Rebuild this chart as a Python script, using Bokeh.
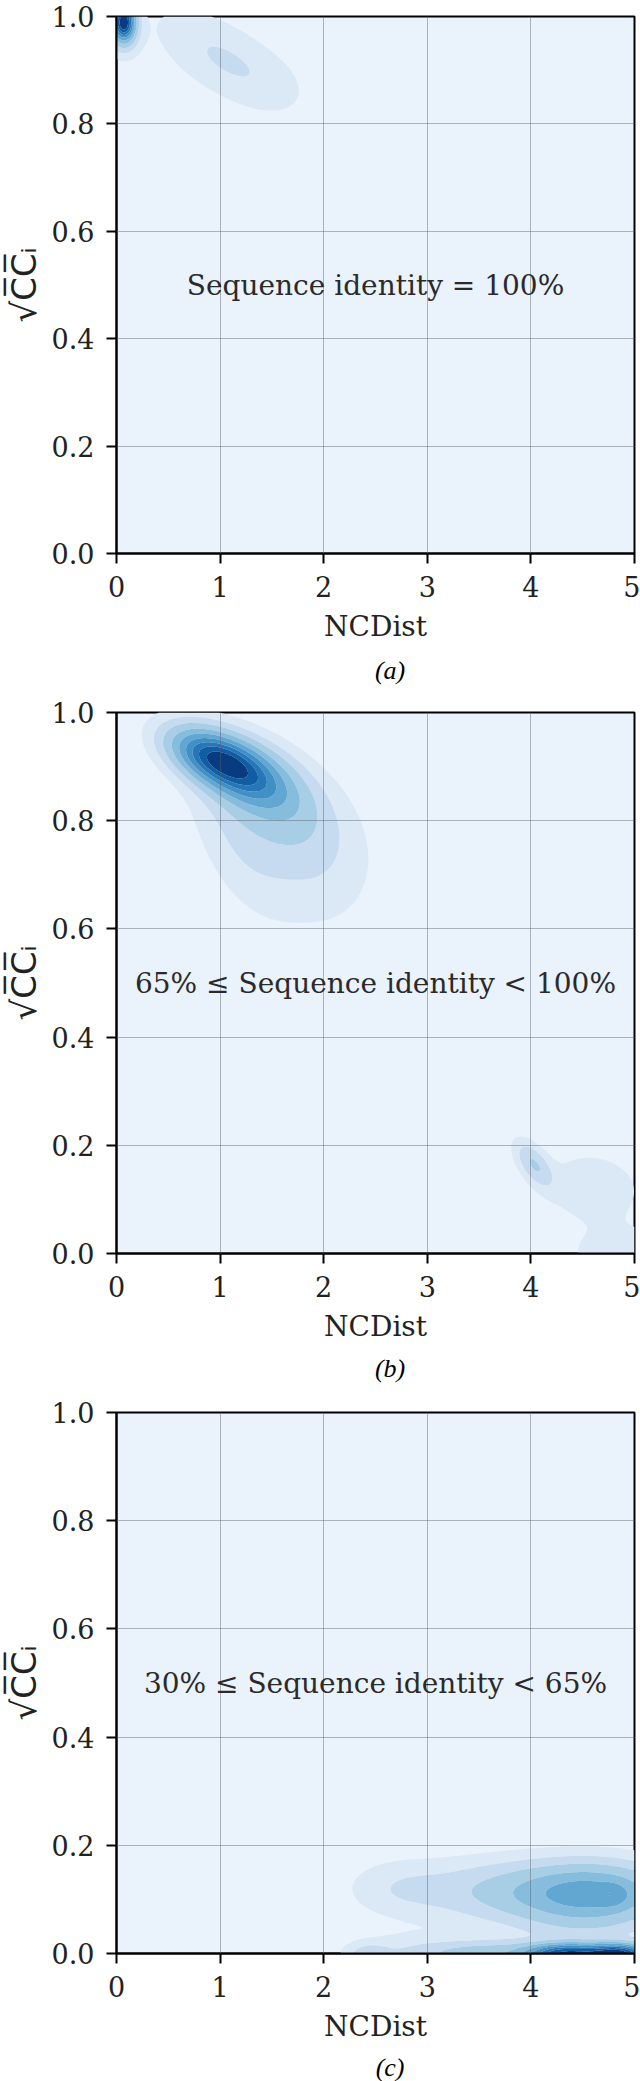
import numpy as np
from bokeh.plotting import figure
from bokeh.layouts import column
from bokeh.models import FixedTicker, PrintfTickFormatter, Label, Range1d
from bokeh.embed import file_html
from bokeh.resources import INLINE

# ---- data: density components (centre, spread, tilt, peak height) ----
# panel (a): Sequence identity = 100%
a_cx = [0.07, 0.08, 1.00, 1.50]
a_cy = [0.99, 0.965, 0.925, 0.875]
a_sx = [0.07, 0.11, 0.42, 0.30]
a_sy = [0.022, 0.03, 0.06, 0.045]
a_rho = [0.0, 0.0, -0.6, -0.3]
a_amp = [1.0, 0.10, 0.088, 0.022]

# panel (b): 65% <= Sequence identity < 100%
b_cx = [0.95, 1.25, 1.55, 1.85, 1.20, 4.03, 4.60, 5.00]
b_cy = [0.915, 0.885, 0.82, 0.70, 0.74, 0.165, 0.122, 0.0]
b_sx = [0.28, 0.32, 0.42, 0.42, 0.30, 0.12, 0.35, 0.50]
b_sy = [0.035, 0.045, 0.07, 0.08, 0.08, 0.028, 0.049, 0.035]
b_rho = [-0.5, -0.5, -0.4, -0.2, -0.5, -0.6, -0.1, 0.0]
b_amp = [1.0, 0.7, 0.25, 0.075, 0.07, 0.24, 0.09, 0.08]

# panel (c): 30% <= Sequence identity < 65%
c_cx = [4.35, 4.85, 3.60, 2.42, 2.80, 4.55, 4.80, 3.60, 2.75, 4.50]
c_cy = [0.0, 0.0, 0.0, 0.0, 0.0, 0.11, 0.108, 0.115, 0.12, 0.045]
c_sx = [0.25, 0.20, 0.45, 0.15, 0.35, 0.50, 0.10, 0.45, 0.35, 0.45]
c_sy = [0.012, 0.012, 0.016, 0.014, 0.03, 0.038, 0.015, 0.039, 0.035, 0.02]
c_rho = [0.0] * 10
c_amp = [0.85, 0.9, 0.22, 0.09, 0.05, 0.45, 0.10, 0.12, 0.075, 0.045]

panel_text = ["Sequence identity = 100%",
              "65% \u2264 Sequence identity < 100%",
              "30% \u2264 Sequence identity < 65%"]
captions = ["(a)", "(b)", "(c)"]

x_ticks = [0, 1, 2, 3, 4, 5]
y_ticks = [0.0, 0.2, 0.4, 0.6, 0.8, 1.0]

level_fracs = [0.03, 0.08, 0.15, 0.25, 0.36, 0.48, 0.60, 0.72, 0.85, 1.0001]
band_colors = ["#dbe9f6", "#c6dbef", "#a8cee5", "#86bcdc", "#62a6d2",
               "#4190c5", "#2777b8", "#115da3", "#083b80"]
bg_color = "#eaf2fb"


def density(cx, cy, sx, sy, rho, amp, X, Y):
    Z = np.zeros_like(X)
    for x0, y0, s1, s2, r, a in zip(cx, cy, sx, sy, rho, amp):
        dx = (X - x0) / s1
        dy = (Y - y0) / s2
        q = (dx * dx + dy * dy - 2 * r * dx * dy) / (1 - r * r)
        Z += a * np.exp(-0.5 * q)
    return Z / Z.max()


xs = np.linspace(0, 5, 401)
ys = np.linspace(0, 1, 401)
X, Y = np.meshgrid(xs, ys)

panels = [
    (a_cx, a_cy, a_sx, a_sy, a_rho, a_amp),
    (b_cx, b_cy, b_sx, b_sy, b_rho, b_amp),
    (c_cx, c_cy, c_sx, c_sy, c_rho, c_amp),
]
top_borders = [16, 17, 17]
frame_heights = [537, 541, 541]
bottom_border = 97
cap_heights = [45, 45, 31]
cap_centre_from_top = [20, 18, 16.7]
cap_x = 338

items = []
for i, comp in enumerate(panels):
    tb = top_borders[i]
    h = tb + frame_heights[i] + bottom_border
    p = figure(width=640, height=h, x_range=(0, 5), y_range=(0, 1),
               output_backend="svg", toolbar_location=None,
               min_border_left=115, min_border_right=6, min_border_top=tb,
               min_border_bottom=bottom_border)
    p.background_fill_color = bg_color
    p.border_fill_color = "white"
    Z = density(*comp, X, Y)
    p.contour(x=xs, y=ys, z=Z, levels=level_fracs, fill_color=band_colors,
              line_color=None)

    p.xaxis.ticker = FixedTicker(ticks=x_ticks)
    p.yaxis.ticker = FixedTicker(ticks=y_ticks)
    p.xaxis.formatter = PrintfTickFormatter(format="%d")
    p.yaxis.formatter = PrintfTickFormatter(format="%.1f")
    for ax in (p.xaxis[0], p.yaxis[0]):
        ax.major_tick_out = 10
        ax.major_tick_in = 0
        ax.minor_tick_out = 0
        ax.minor_tick_in = 0
        ax.major_tick_line_width = 2
        ax.major_tick_line_color = "black"
        ax.axis_line_width = 2
        ax.axis_line_color = "black"
        ax.major_label_text_font = "DejaVu Serif"
        ax.major_label_text_font_size = "27px"
        ax.major_label_text_color = "#222222"
        ax.axis_label_text_font_style = "normal"
        ax.axis_label_text_color = "#222222"
    p.xaxis.major_label_standoff = 12
    p.yaxis.major_label_standoff = 12
    p.xaxis.axis_label = "NCDist"
    p.xaxis.axis_label_text_font = "DejaVu Serif"
    p.xaxis.axis_label_text_font_size = "28px"
    p.xaxis.axis_label_standoff = 10
    p.yaxis.axis_label = "\u221aC\u0305C\u0305\u1d62"
    p.yaxis.axis_label_text_font = "DejaVu Sans"
    p.yaxis.axis_label_text_font_size = "34px"
    p.yaxis.axis_label_standoff = 5

    p.grid.grid_line_color = "#56606c"
    p.grid.grid_line_alpha = 0.45
    p.grid.grid_line_width = 1
    p.xgrid.ticker = FixedTicker(ticks=x_ticks)
    p.ygrid.ticker = FixedTicker(ticks=y_ticks)
    p.xgrid.level = "annotation"
    p.ygrid.level = "annotation"

    p.outline_line_color = "black"
    p.outline_line_width = 2
    p.outline_line_alpha = 1

    p.add_layout(Label(x=2.5, y=0.5, text=panel_text[i], text_align="center",
                       text_baseline="middle", text_font="DejaVu Serif",
                       text_font_size="28px", text_color="#2a2a2a"))
    items.append(p)

    # caption strip below the panel
    ch = cap_heights[i]
    c = figure(width=640, height=ch, x_range=Range1d(0, 640), y_range=Range1d(0, ch),
               x_axis_location=None, y_axis_location=None, min_border=0,
               toolbar_location=None, output_backend="svg")
    c.outline_line_color = None
    c.background_fill_color = "white"
    c.border_fill_color = "white"
    c.grid.visible = False
    c.add_layout(Label(x=cap_x, y=ch - cap_centre_from_top[i], text=captions[i],
                       text_align="center", text_baseline="middle",
                       text_font="Liberation Serif", text_font_style="italic",
                       text_font_size="26px", text_color="black"))
    items.append(c)

layout = column(*items, spacing=0)
open("out.html", "w").write(file_html(layout, INLINE))
